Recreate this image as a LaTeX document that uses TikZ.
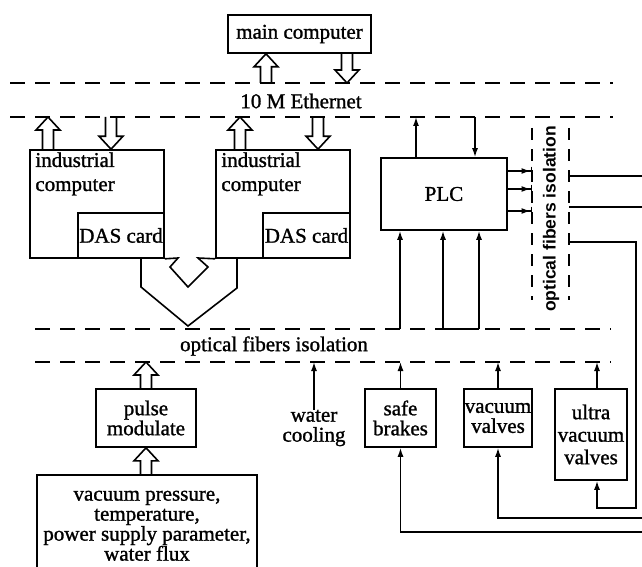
\documentclass[tikz,border=0pt]{standalone}
\usepackage{fontspec}
\setmainfont[FakeBold=1.2,AutoFakeBold=1.2]{Liberation Serif}
\newfontfamily\isofont{Liberation Sans}
\usetikzlibrary{arrows.meta,calc}

% hollow block arrow from #1 (tail) to #2 (tip), both vertically aligned
\newcommand{\fatarrow}[2]{%
  \draw[fat] let \p1=(#1), \p2=(#2), \n1={(\y2>\y1)?13:-13} in
    (\x1-5.5pt,\y1) -- (\x1-5.5pt,\y2-\n1) -- (\x1-12pt,\y2-\n1) -- (\x1,\y2)
    -- (\x1+12pt,\y2-\n1) -- (\x1+5.5pt,\y2-\n1) -- (\x1+5.5pt,\y1);}

\begin{document}
\begin{tikzpicture}[x=1pt,y=-1pt,
  box/.style={draw, line width=1.6pt, inner sep=0pt, align=center,
    font=\fontsize{21}{20}\selectfont\bfseries},
  txt/.style={inner sep=0pt, align=center, font=\fontsize{21}{20}\selectfont\bfseries},
  bus/.style={line width=1.7pt, dash pattern=on 15pt off 10pt},
  busv/.style={line width=1.7pt, dash pattern=on 12pt off 9pt},
  wire/.style={line width=1.5pt},
  sig/.style={wire, -{Latex[length=9pt,width=6pt]}},
  sigbar/.style={wire, -{Latex[length=9pt,width=6pt]Bar[width=9pt]}},
  fat/.style={line width=1.6pt, line join=miter}]
\useasboundingbox (0,0) rectangle (642,567);

% buses
\coordinate (ethT) at (10,83);
\coordinate (ethB) at (10,117);
\coordinate (fibT) at (35,329);
\coordinate (fibB) at (35,362);
\coordinate (isoL) at (532,128);
\coordinate (isoR) at (569,128);
\draw[bus] (ethT) -- ++(603,0);
\draw[bus] (ethB) -- ++(603,0);
\draw[bus] (fibT) -- ++(576,0);
\draw[bus] (fibB) -- ++(576,0);
\draw[busv] (isoL) -- ++(0,172);
\draw[busv] (isoR) -- ++(0,172);
\node[txt] (eth) at (301,101) {10 M Ethernet};
\node[txt] (fib) at (274,346) {optical fibers isolation};
\node[inner sep=0pt, rotate=90, font=\isofont\bfseries\fontsize{17.5}{20}\selectfont] (iso) at (551,219) {optical fibers isolation};

% computers
\node[box, minimum width=143, minimum height=38] (main) at (299.5,34) {main computer};
\node[box, minimum width=134, minimum height=108] (ind1) at (97,204) {};
\node[box, minimum width=86, minimum height=45] (das1) at (121,235.5) {DAS card};
\node[txt, anchor=north west, align=left, font=\fontsize{21}{24}\selectfont\bfseries] (ind1txt) at ([xshift=6pt,yshift=-3pt]ind1.north west) {industrial\\computer};
\node[box, minimum width=134, minimum height=108] (ind2) at (283,204) {};
\node[box, minimum width=87, minimum height=45] (das2) at (306.5,235.5) {DAS card};
\node[txt, anchor=north west, align=left, font=\fontsize{21}{24}\selectfont\bfseries] (ind2txt) at ([xshift=6pt,yshift=-3pt]ind2.north west) {industrial\\computer};
\node[box, minimum width=126, minimum height=72] (plc) at (444,194) {PLC};

% field side
\node[box, minimum width=100, minimum height=58] (pulse) at (146,418) {pulse\\modulate};
\node[box, minimum width=220, minimum height=102, anchor=north] (sens) at (147,474) {vacuum pressure,\\temperature,\\power supply parameter,\\water flux};
\node[txt] (water) at (314,428) {water\\cooling};
\node[box, minimum width=71, minimum height=58] (safe) at (400.5,418) {safe\\brakes};
\node[box, minimum width=68, minimum height=58] (vval) at (498,418) {vacuum\\valves};
\node[box, minimum width=72, minimum height=91, font=\fontsize{21}{22.5}\selectfont\bfseries] (uval) at (591,434.5) {ultra\\vacuum\\valves};
\coordinate (uvalN) at ([xshift=6pt]uval.north);
\coordinate (uvalS) at ([xshift=6pt]uval.south);

% block arrows
\fatarrow{ethT -| 266,0}{main.south -| 266,0}
\fatarrow{main.south -| 347,0}{ethT -| 347,0}
\fatarrow{ind1.north -| 48,0}{ethB -| 48,0}
\fatarrow{ethB -| 111,0}{ind1.north -| 111,0}
\fatarrow{ind2.north -| 240,0}{ethB -| 240,0}
\fatarrow{ethB -| 318,0}{ind2.north -| 318,0}
\fatarrow{pulse.north}{fibB -| pulse.north}
\fatarrow{sens.north -| pulse.south}{pulse.south}

% DAS cards to the fibre link
\draw[fat] (141,258) -- (141,287) -- (188,326) -- (237,288) -- (237,258);
\draw[fat] (das1.south east) -- (178,258) -- (170,267) -- (188,287) -- (208,267) -- (198,258) -- (ind2.south west);

% PLC signals
\draw[sig] (plc.north -| 416,0) -- (ethB -| 416,0);
\draw[sig] (ethB -| 475,0) -- (plc.north -| 475,0);
\foreach \yy in {171,189,211}
  \draw[sigbar] (plc.east |- 0,\yy) -- (isoL |- 0,\yy);
\foreach \xx in {400,443,479}
  \draw[sig] (fibT -| \xx,0) -- (plc.south -| \xx,0);
\draw[wire] (fibT -| 443,0) -- (fibT -| 479,0);
\draw[wire] (isoR |- 0,176) -- (660,176);
\draw[wire] (isoR |- 0,207) -- (660,207);
\draw[sig] (isoR |- 0,242) -| (636,508) -| (uvalS);
\draw[sig] (660,518) -| (vval.south);
\draw[sig] (660,532) -| (safe.south);

% up to the fibre link
\draw[sig] (water.north) -- (fibB -| water.north);
\draw[sig] (safe.north) -- (fibB -| safe.north);
\draw[sig] (vval.north) -- (fibB -| vval.north);
\draw[sig] (uvalN) -- (fibB -| uvalN);
\end{tikzpicture}
\end{document}
